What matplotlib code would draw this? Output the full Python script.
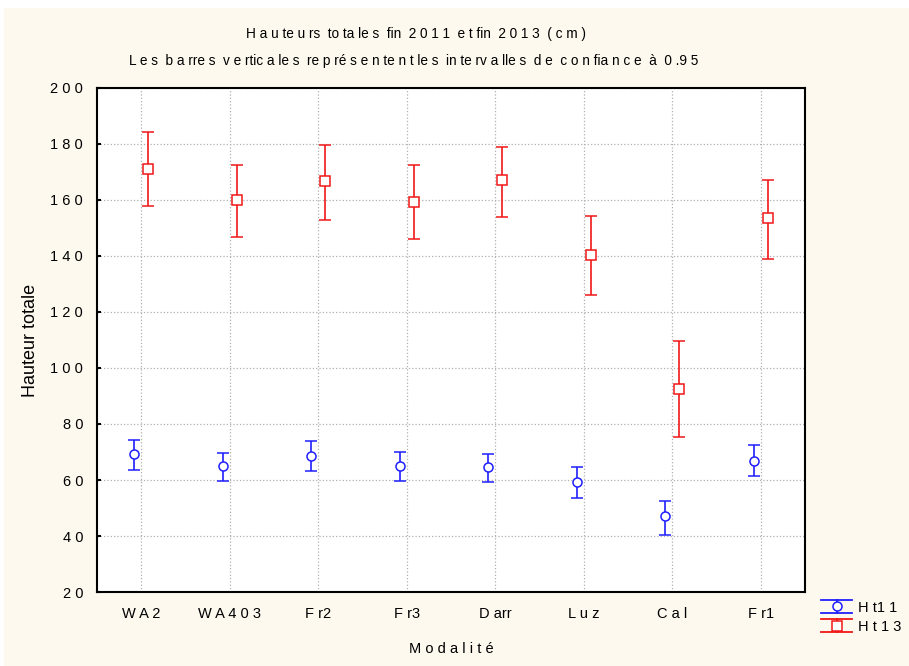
import matplotlib
matplotlib.use('Agg')
import matplotlib.pyplot as plt
from matplotlib.patches import Rectangle
from matplotlib.lines import Line2D
from matplotlib.legend_handler import HandlerBase
import numpy as np

plt.rcParams['font.family'] = ['Liberation Sans', 'DejaVu Sans']

# données
modalites = ['W A 2', 'W A 4 0 3', 'F r2', 'F r3', 'D arr', 'L u z', 'C a l', 'F r1']
ht11 = [69.3, 65.0, 68.6, 65.0, 64.6, 59.3, 47.1, 66.8]
ht11_bas = [63.6, 59.6, 63.2, 59.6, 59.3, 53.6, 40.4, 61.4]
ht11_haut = [74.3, 69.6, 73.9, 70.0, 69.3, 64.6, 52.5, 72.5]
ht13 = [171.1, 160.0, 166.8, 159.3, 167.1, 140.4, 92.5, 153.6]
ht13_bas = [157.9, 146.8, 152.9, 146.1, 153.9, 126.1, 75.4, 138.9]
ht13_haut = [184.3, 172.5, 179.6, 172.5, 178.9, 154.3, 109.6, 167.1]
yticks = [20, 40, 60, 80, 100, 120, 140, 160, 180, 200]


# symbole de légende : barre verticale avec deux traits horizontaux larges
class HandlerBarre(HandlerBase):
    def __init__(self, marker, color):
        super().__init__()
        self.marker = marker
        self.color = color

    def create_artists(self, legend, orig_handle, xdescent, ydescent,
                       width, height, fontsize, trans):
        x0, x1 = -xdescent, -xdescent + width
        xm = (x0 + x1) / 2
        y0, y1 = -ydescent - 0.15 * height, -ydescent + 1.15 * height
        ym = (y0 + y1) / 2
        kw = dict(color=self.color, lw=1.3, transform=trans)
        arts = [Line2D([x0, x1], [y0, y0], **kw),
                Line2D([x0, x1], [y1, y1], **kw),
                Line2D([xm, xm], [y0, y1], **kw),
                Line2D([xm], [ym], marker=self.marker, ms=6.5, mfc='white',
                       mec=self.color, mew=1.1, transform=trans)]
        return arts


fig = plt.figure(figsize=(9.09, 6.66), dpi=100, facecolor='white')
fig.patches.append(Rectangle((4/909, 0), 1, 1 - 8/666, transform=fig.transFigure,
                             facecolor='#fdf9ee', edgecolor='none', zorder=-10))
ax = fig.add_axes([0.1067, 0.1111, 0.779, 0.7568])
ax.set_facecolor('white')

x = np.arange(len(modalites))
bleu = '#1f1fff'
rouge = '#f01818'

e1 = ax.errorbar(x - 0.08, ht11,
                 yerr=[np.array(ht11) - np.array(ht11_bas), np.array(ht11_haut) - np.array(ht11)],
                 fmt='o', color=bleu, mfc='white', mec=bleu, ms=6.5, mew=1.1,
                 elinewidth=1.2, capsize=4, capthick=1.2)
e2 = ax.errorbar(x + 0.08, ht13,
                 yerr=[np.array(ht13) - np.array(ht13_bas), np.array(ht13_haut) - np.array(ht13)],
                 fmt='s', color=rouge, mfc='white', mec=rouge, ms=6.5, mew=1.1,
                 elinewidth=1.2, capsize=4, capthick=1.2)

ax.set_xlim(-0.5, 7.5)
ax.set_ylim(20, 200)
ax.set_xticks(x)
ax.set_xticklabels(modalites, fontsize=10.5)
ax.set_yticks(yticks)
ax.set_yticklabels([' '.join(str(v)) for v in yticks], fontsize=10.5)
ax.tick_params(axis='y', direction='in', length=3, width=1.5, pad=10)
ax.tick_params(axis='x', length=0, pad=11)
ax.grid(True, linestyle=':', color='#b0b0b0', linewidth=0.9)
ax.set_axisbelow(True)
for s in ax.spines.values():
    s.set_linewidth(1.5)
    s.set_color('black')

ax.set_ylabel('Hauteur totale', fontsize=13, labelpad=8)
ax.set_xlabel('M o d a l i t é', fontsize=10.5, labelpad=15)

fig.text(0.458, 0.949, 'H a u te u rs  to ta le s  fin  2 0 1 1  e t fin  2 0 1 3  ( c m )',
         ha='center', va='center', fontsize=9.8)
fig.text(0.455, 0.909, 'L e s  b a rre s  v e rtic a le s  re p ré s e n te n t le s  in te rv a lle s  d e  c o n fia n c e  à  0 .9 5',
         ha='center', va='center', fontsize=9.8)

fig.legend(handles=[e1, e2], labels=['H t1 1', 'H t 1 3'],
           handler_map={e1: HandlerBarre('o', bleu), e2: HandlerBarre('s', rouge)},
           loc='upper left', bbox_to_anchor=(0.897, 0.107),
           frameon=False, fontsize=10.5, handlelength=2.1, handletextpad=0.4,
           labelspacing=0.35, borderaxespad=0)

fig.savefig('out.png', dpi=100, facecolor=fig.get_facecolor())
